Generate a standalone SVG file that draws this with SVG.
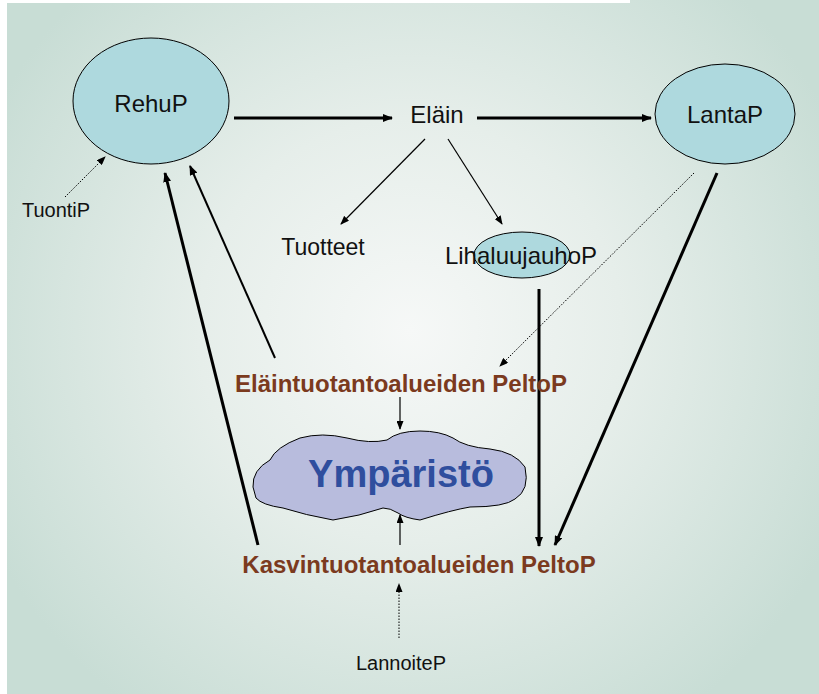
<svg xmlns="http://www.w3.org/2000/svg" width="819" height="694" viewBox="0 0 819 694">
<defs>
<radialGradient id="bg" cx="410" cy="330" r="470" gradientUnits="userSpaceOnUse">
<stop offset="0" stop-color="#f6f8f7"/>
<stop offset="0.45" stop-color="#e6eeea"/>
<stop offset="1" stop-color="#c8ddd5"/>
</radialGradient>
<marker id="ah" markerWidth="10" markerHeight="8" refX="9" refY="4" orient="auto" markerUnits="userSpaceOnUse">
<path d="M0,0 L10,4 L0,8 Z" fill="#000"/>
</marker>
<marker id="ahs" markerWidth="9" markerHeight="7" refX="8" refY="3.5" orient="auto" markerUnits="userSpaceOnUse">
<path d="M0,0 L9,3.5 L0,7 Z" fill="#000"/>
</marker>
<style>
.node{fill:#aed9de;stroke:#000;stroke-width:1}
.lbl{font-family:"Liberation Sans",Arial,sans-serif;fill:#111;text-anchor:middle}
.brown{font-family:"Liberation Sans",Arial,sans-serif;font-weight:bold;fill:#7b3a1e;text-anchor:middle;font-size:24px}
.thick{stroke:#000;stroke-width:3;fill:none;marker-end:url(#ah)}
.med{stroke:#000;stroke-width:2;fill:none;marker-end:url(#ah)}
.thin{stroke:#000;stroke-width:1.2;fill:none;marker-end:url(#ahs)}
.dot{stroke:#000;stroke-width:1;stroke-dasharray:1.5 1.5;fill:none;marker-end:url(#ahs)}
</style>
</defs>
<rect x="0" y="0" width="819" height="694" fill="#fff"/>
<path d="M7,3 H630 V0 H819 V694 H7 Z" fill="url(#bg)"/>
<g id="connectors">
<line class="thick" x1="234" y1="118" x2="392" y2="118"/>
<line class="thick" x1="477" y1="118" x2="651" y2="118"/>
<line class="thin" x1="425" y1="139" x2="341" y2="224"/>
<line class="thin" x1="448" y1="139" x2="502" y2="224"/>
<line class="thick" x1="539" y1="289" x2="539" y2="546"/>
<line class="thick" x1="717" y1="173" x2="555" y2="545"/>
<line class="dot" x1="694" y1="173" x2="500" y2="366"/>
<line class="dot" x1="65" y1="197" x2="105" y2="157"/>
<line class="thick" x1="258" y1="545" x2="165" y2="173"/>
<line class="med" x1="275" y1="358" x2="190" y2="166"/>
<line class="thin" x1="400" y1="397" x2="400" y2="429"/>
<line class="thin" x1="400" y1="545" x2="400" y2="515"/>
<line class="dot" x1="399" y1="638" x2="399" y2="584"/>
</g>
<g id="rehup">
<ellipse class="node" cx="151" cy="101" rx="78" ry="63"/>
<text class="lbl" x="151" y="112" font-size="24">RehuP</text>
</g>
<g id="lantap">
<ellipse class="node" cx="725" cy="114" rx="70" ry="50"/>
<text class="lbl" x="725" y="123" font-size="24">LantaP</text>
</g>
<g id="elain">
<text class="lbl" x="437" y="123" font-size="24">Eläin</text>
</g>
<g id="tuotteet">
<text class="lbl" x="323" y="255" font-size="23">Tuotteet</text>
</g>
<g id="lihaluujauhop">
<ellipse class="node" cx="522" cy="255" rx="48" ry="23"/>
<text class="lbl" x="521" y="264" font-size="24">LihaluujauhoP</text>
</g>
<g id="tuontip">
<text class="lbl" x="56" y="217" font-size="20">TuontiP</text>
</g>
<g id="elaintuotanto">
<text class="brown" x="401" y="392">Eläintuotantoalueiden PeltoP</text>
</g>
<g id="ymparisto">
<path d="M253,487 Q252,470 270,460 Q276,447 300,438 Q322,432 347,438 Q370,444 387,440 Q398,431 420,431 Q440,431 453,438 Q465,447 490,449 Q515,452 525,467 Q530,490 515,499 Q505,507 470,507 Q452,510 420,520 Q405,518 398,513 Q390,508 383,508 Q360,516 333,520 Q305,515 283,508 Q262,505 256,498 Z" fill="#b8bcdd" stroke="#000" stroke-width="1"/>
<text x="401" y="487" font-family="Liberation Sans,Arial,sans-serif" font-weight="bold" font-size="38" fill="#2f4e9e" text-anchor="middle">Ympäristö</text>
</g>
<g id="kasvintuotanto">
<text class="brown" x="419" y="573">Kasvintuotantoalueiden PeltoP</text>
</g>
<g id="lannoitep">
<text class="lbl" x="401" y="670" font-size="20">LannoiteP</text>
</g>
</svg>
